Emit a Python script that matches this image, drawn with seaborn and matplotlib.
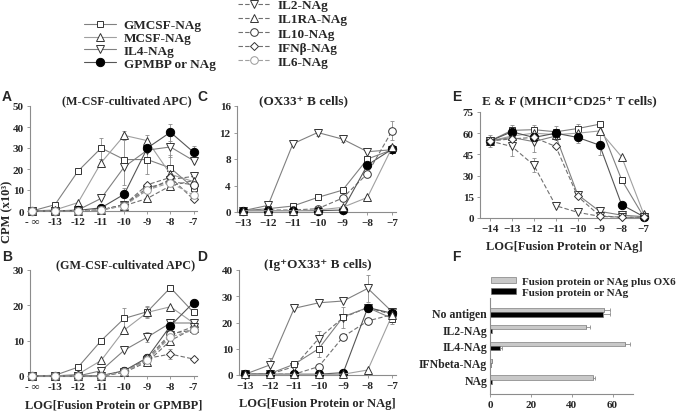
import numpy as np
import pandas as pd
import matplotlib
matplotlib.use("Agg")
import matplotlib.pyplot as plt
import seaborn as sns

sns.set_style("ticks")
plt.rcParams['font.family'] = ['Liberation Serif', 'DejaVu Serif']
plt.rcParams['font.weight'] = 'bold'

# -----------------------------
# data (CPM x10^3)

x_ab = [0, 1, 2, 3, 4, 5, 6, 7]
x_ab_labels = ['- \u221e', '-13', '-12', '-11', '-10', '-9', '-8', '-7']
x_cd = [-13, -12, -11, -10, -9, -8, -7]
x_e = [-14, -13, -12, -11, -10, -9, -8, -7]

A_vals = {
    'GMCSF-NAg':    [0, 3, 19, 30, 24.5, 24.5, 20.5, 11],
    'MCSF-NAg':     [0, 0.5, 4, 23, 36, 33.5, 17.5, 14],
    'IL4-NAg':      [0, 0, 0.5, 6, 21, 29, 30.5, 24],
    'GPMBP or NAg': [0, 0, 0.3, 1.5, 8, 30, 37.5, 28],
    'IL2-NAg':      [0, 0, 0, 0.5, 3, 10, 15, 16.5],
    'IL1RA-NAg':    [0, 0, 0, 0.5, 2.5, 6, 12, 14.5],
    'IL10-NAg':     [0, 0, 0, 0.5, 3, 11, 14, 12.5],
    'IFN\u03b2-NAg':     [0, 0, 0, 0.5, 3, 12.5, 16, 5.5],
    'IL6-NAg':      [0, 0, 0, 0.5, 2.5, 10, 13.5, 7.5],
}
A_err = {
    'GMCSF-NAg':    [0, 0, 0, 5, 12, 7, 6, 2],
    'MCSF-NAg':     [0, 0, 0, 2, 2, 2.5, 0, 0],
    'IL4-NAg':      [0, 0, 0, 0, 0, 0, 5, 0],
    'GPMBP or NAg': [0, 0, 0, 0, 3, 2, 4, 3],
}

B_vals = {
    'GMCSF-NAg':    [0, 0.2, 2.5, 10, 16.3, 18.2, 25, 18],
    'MCSF-NAg':     [0, 0, 0.5, 4.4, 13, 18, 19.6, 15],
    'IL4-NAg':      [0, 0, 0, 1.5, 7.3, 11, 15, 15],
    'GPMBP or NAg': [0, 0, 0, 0.1, 1.5, 5.2, 14.2, 20.8],
    'IL2-NAg':      [0, 0, 0, 0, 1.2, 4.5, 11.5, 14],
    'IL1RA-NAg':    [0, 0, 0, 0, 1.0, 4, 10, 13.5],
    'IL10-NAg':     [0, 0, 0, 0, 1.3, 5, 12, 13],
    'IFN\u03b2-NAg':     [0, 0, 0, 0, 1.2, 5, 6.2, 4.8],
    'IL6-NAg':      [0, 0, 0, 0, 1.2, 4.5, 11, 13],
}
B_err = {
    'GMCSF-NAg':    [0, 0, 0, 0, 3, 1.5, 0, 0],
    'MCSF-NAg':     [0, 0, 0, 0, 0, 1.5, 0, 0],
    'IL4-NAg':      [0, 0, 0, 0, 0, 1.5, 0, 0],
    'IFN\u03b2-NAg':     [0, 0, 0, 0, 0, 0, 1.5, 0],
}

C_vals = {
    'IL4-NAg':      [0.2, 1.0, 10.3, 12, 11, 9.1, 9.4],
    'GMCSF-NAg':    [0.2, 0.5, 0.9, 2.2, 3.3, 8, 9.4],
    'IL10-NAg':     [0.2, 0.3, 0.3, 0.5, 2.1, 5.8, 12.3],
    'GPMBP or NAg': [0.2, 0.2, 0.2, 0.2, 0.3, 7.1, 9.5],
    'MCSF-NAg':     [0.2, 0.2, 0.2, 0.3, 0.7, 2.2, 9.8],
}
C_err = {
    'IL4-NAg':      [0, 0.5, 0, 0.6, 0.5, 0, 0],
    'IL10-NAg':     [0, 0, 0, 0, 0, 0, 1.5],
}

D_vals = {
    'IL4-NAg':      [0.3, 3.8, 25.4, 27.5, 28.2, 33, 24],
    'IL2-NAg':      [0, 0.3, 3.2, 13.9, 21.9, 25.7, 23],
    'GMCSF-NAg':    [0.3, 0.5, 4.1, 10, 22.2, 25.7, 21.5],
    'IL10-NAg':     [0.3, 0.3, 0.3, 3.2, 14.6, 20.6, 23],
    'GPMBP or NAg': [0.3, 0.3, 0.3, 0.3, 0.9, 25.7, 23.5],
    'MCSF-NAg':     [0.2, 0.2, 0.2, 0.2, 0.3, 1.9, 23],
}
D_err = {
    'IL4-NAg':      [0, 2.5, 0, 0, 0, 5, 0],
    'IL2-NAg':      [0, 0, 0, 3, 4, 0, 2],
    'GMCSF-NAg':    [0, 0, 0, 3, 0, 0, 2],
}

E_vals = {
    'GMCSF-NAg':    [54.5, 62, 62.5, 61, 63.3, 66.4, 27, 1],
    'MCSF-NAg':     [54.5, 58, 60, 59, 60, 61.6, 43.3, 3],
    'IL4-NAg':      [54.5, 57, 54, 58, 16.5, 4.7, 2, 1],
    'GPMBP or NAg': [54.5, 61, 57, 60, 57, 51.5, 9.4, 1],
    'IL2-NAg':      [54.5, 50.6, 37.4, 8.7, 4, 1.2, 0.5, 0.5],
    'IFN\u03b2-NAg':     [54.5, 56, 57, 50.6, 15.3, 1.6, 0.5, 0.5],
}
E_err = {
    'GMCSF-NAg':    [0, 4, 3, 0, 3, 0, 0, 0],
    'GPMBP or NAg': [4, 0, 0, 5, 4, 7, 0, 0],
    'IL4-NAg':      [0, 0, 7, 0, 0, 0, 0, 0],
    'IL2-NAg':      [0, 7, 5, 0, 0, 0, 0, 0],
}

F_conds = ['No antigen', 'IL2-NAg', 'IL4-NAg', 'IFNbeta-NAg', 'NAg']
F_ox6 = [56, 47, 66, 0.8, 50.5]
F_ox6_err = [2.5, 2, 2.5, 0, 1]
F_nag = [55.5, 1.0, 5.0, 0.5, 0.8]
F_nag_err = [3, 0, 1, 0, 0]
F_groups = ['Fusion protein or NAg plus OX6', 'Fusion protein or NAg']

# -----------------------------
# line / marker styles for each construct

styles = {
    'GMCSF-NAg':    dict(marker='s', ls='-', mfc='white', mec='#333333', lc='#808080', ms=5),
    'MCSF-NAg':     dict(marker='^', ls='-', mfc='white', mec='#333333', lc='#a0a0a0', ms=5.5),
    'IL4-NAg':      dict(marker='v', ls='-', mfc='white', mec='#333333', lc='#808080', ms=5.5),
    'GPMBP or NAg': dict(marker='o', ls='-', mfc='black', mec='black', lc='#555555', ms=6),
    'IL2-NAg':      dict(marker='v', ls=(0, (4, 2)), mfc='white', mec='#333333', lc='#707070', ms=5.5),
    'IL1RA-NAg':    dict(marker='^', ls=(0, (4, 2)), mfc='white', mec='#333333', lc='#707070', ms=5.5),
    'IL10-NAg':     dict(marker='o', ls=(0, (4, 2)), mfc='white', mec='#333333', lc='#707070', ms=5.5),
    'IFN\u03b2-NAg':     dict(marker='D', ls=(0, (4, 2)), mfc='white', mec='#333333', lc='#707070', ms=4.5),
    'IL6-NAg':      dict(marker='o', ls=(0, (4, 2)), mfc='white', mec='#999999', lc='#a0a0a0', ms=5.5),
}

W, H = 683, 414
fig = plt.figure(figsize=(W / 100, H / 100), dpi=100)


def rect(l, t, r, b):
    return [l / W, 1 - b / H, (r - l) / W, (b - t) / H]


def style_axes(ax):
    sns.despine(ax=ax)
    for s in ['left', 'bottom']:
        ax.spines[s].set_color('#8c8c8c')
        ax.spines[s].set_linewidth(0.8)
    ax.tick_params(labelsize=8, length=2.5, width=0.6, color='#8c8c8c', pad=2)
    for lab in ax.get_xticklabels() + ax.get_yticklabels():
        lab.set_fontweight('bold')


def draw(ax, x, vals, errs):
    handles = {}
    for name, y in vals.items():
        st = styles[name]
        sns.lineplot(x=x, y=y, ax=ax, color=st['lc'], linestyle=st['ls'], linewidth=0.8,
                     marker=st['marker'], markersize=st['ms'], markerfacecolor=st['mfc'],
                     markeredgecolor=st['mec'], markeredgewidth=0.7, clip_on=False,
                     label=name, legend=False, zorder=3)
        handles[name] = ax.lines[-1]
        if name in errs:
            ax.errorbar(x, y, yerr=errs[name], fmt='none', ecolor='#8c8c8c',
                        elinewidth=0.6, capsize=1.5, capthick=0.6, zorder=2, clip_on=False)
    return handles


# -----------------------------
# panel A
axA = fig.add_axes(rect(30, 107, 197, 212))
hA = draw(axA, x_ab, A_vals, A_err)
axA.set_xlim(-0.08, 7.15)
axA.set_ylim(0, 50)
axA.set_xticks(x_ab, x_ab_labels)
axA.set_yticks([0, 10, 20, 30, 40, 50])
style_axes(axA)
axA.text(0.58, 1.0, '(M-CSF-cultivated APC)', transform=axA.transAxes, ha='center',
         va='bottom', fontsize=8.7, fontweight='bold')

# panel B
axB = fig.add_axes(rect(30, 271, 197, 377))
draw(axB, x_ab, B_vals, B_err)
axB.set_xlim(-0.08, 7.15)
axB.set_ylim(0, 30)
axB.set_xticks(x_ab, x_ab_labels)
axB.set_yticks([0, 10, 20, 30])
style_axes(axB)
axB.set_xlabel('LOG[Fusion Protein or GPMBP]', fontsize=9, fontweight='bold', labelpad=5)
axB.text(0.57, 1.0, '(GM-CSF-cultivated APC)', transform=axB.transAxes, ha='center',
         va='bottom', fontsize=8.7, fontweight='bold')

# panel C
axC = fig.add_axes(rect(237, 107, 396, 213))
draw(axC, x_cd, C_vals, C_err)
axC.set_xlim(-13.25, -6.85)
axC.set_ylim(0, 16)
axC.set_xticks(x_cd)
axC.set_yticks([0, 4, 8, 12, 16])
style_axes(axC)
axC.text(0.42, 1.0, '(OX33\u207a B cells)', transform=axC.transAxes, ha='center',
         va='bottom', fontsize=9.5, fontweight='bold')

# panel D
axD = fig.add_axes(rect(239, 271, 396, 376))
draw(axD, x_cd, D_vals, D_err)
axD.set_xlim(-13.25, -6.85)
axD.set_ylim(0, 40)
axD.set_xticks(x_cd)
axD.set_yticks([0, 10, 20, 30, 40])
style_axes(axD)
axD.set_xlabel('LOG[Fusion Protein or NAg]', fontsize=9, fontweight='bold', labelpad=5)
axD.text(0.5, 1.0, '(Ig\u207aOX33\u207a B cells)', transform=axD.transAxes, ha='center',
         va='bottom', fontsize=9.5, fontweight='bold')

# panel E
axE = fig.add_axes(rect(480, 113, 648, 219))
draw(axE, x_e, E_vals, E_err)
axE.set_xlim(-14.45, -6.8)
axE.set_ylim(0, 75)
axE.set_xticks(x_e)
axE.set_yticks([0, 15, 30, 45, 60, 75])
style_axes(axE)
axE.set_xlabel('LOG[Fusion Protein or NAg]', fontsize=9, fontweight='bold', labelpad=5)
axE.text(0.53, 1.05, 'E & F (MHCII\u207aCD25\u207a T cells)', transform=axE.transAxes,
         ha='center', va='bottom', fontsize=9.5, fontweight='bold')

# panel F
axF = fig.add_axes(rect(490, 299, 633, 395))
df_f = pd.DataFrame({
    'cond': F_conds + F_conds,
    'cpm': F_ox6 + F_nag,
    'group': [F_groups[0]] * len(F_conds) + [F_groups[1]] * len(F_conds),
})
sns.barplot(data=df_f, y='cond', x='cpm', hue='group', orient='h', width=0.5,
            palette=['#c8c8c8', 'black'], edgecolor='#666666', linewidth=0.4,
            errorbar=None, ax=axF)
for cont, err in zip(axF.containers, [F_ox6_err, F_nag_err]):
    ys = [p.get_y() + p.get_height() / 2 for p in cont]
    xs = [p.get_width() for p in cont]
    axF.errorbar(xs, ys, xerr=[np.zeros(len(err)), err], fmt='none', ecolor='#8c8c8c',
                 elinewidth=0.6, capsize=1.5, capthick=0.6)
axF.set_xlim(0, 70)
axF.set_ylim(4.85, -0.85)
axF.set_xticks([0, 20, 40, 60])
axF.set_xlabel('')
axF.set_ylabel('')
style_axes(axF)
axF.tick_params(axis='y', length=0, labelsize=8.5)
axF.legend(loc='lower left', bbox_to_anchor=(0.0, 1.0), frameon=False, fontsize=8,
           handlelength=2.2, handleheight=0.45, handletextpad=0.6, labelspacing=0.15,
           borderpad=0, borderaxespad=0.1)

# -----------------------------
# shared labels, panel letters, top legend
fig.text(7 / W, 1 - 212 / H, 'CPM (x10\u00b3)', rotation=90, ha='center', va='center',
         fontsize=9, fontweight='bold')

for letter, px, py in [('A', 2, 97), ('B', 2, 257), ('C', 197, 97), ('D', 197, 257),
                       ('E', 452, 97), ('F', 452, 257)]:
    fig.text(px / W, 1 - py / H, letter, ha='left', va='center', fontsize=10,
             fontweight='bold', family='Liberation Sans')

left_names = ['GMCSF-NAg', 'MCSF-NAg', 'IL4-NAg', 'GPMBP or NAg']
right_names = ['IL2-NAg', 'IL1RA-NAg', 'IL10-NAg', 'IFN\u03b2-NAg', 'IL6-NAg']
leg_kw = dict(loc='upper left', frameon=False, fontsize=9.5, handlelength=2.4,
              handletextpad=0.6, borderpad=0, borderaxespad=0)
fig.legend([hA[n] for n in left_names], left_names, labelspacing=0.05,
           bbox_to_anchor=(84 / W, 1 - 20 / H), **leg_kw)
fig.legend([hA[n] for n in right_names], right_names, labelspacing=0.15,
           bbox_to_anchor=(238 / W, 1 - 0 / H), **leg_kw)

fig.savefig('out.png', dpi=100)
